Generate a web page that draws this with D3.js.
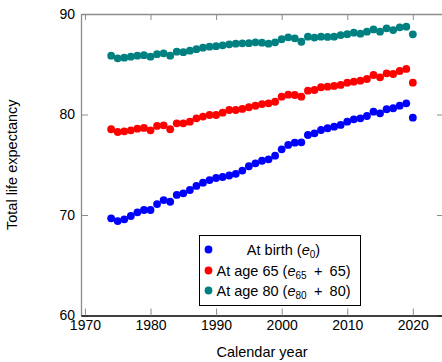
<!DOCTYPE html>
<html>
<head>
<meta charset="utf-8">
<script src="https://cdn.jsdelivr.net/npm/d3@7"></script>
<style>
  body { margin: 0; background: #fff; }
  svg { font-family: "Liberation Sans", Arial, sans-serif; }
</style>
</head>
<body>
<svg width="442" height="362"></svg>
<script>
var years = d3.range(1974, 2021);

var atBirth = [69.67, 69.4, 69.57, 69.9, 70.27, 70.5, 70.5, 71.09, 71.49, 71.32,
  72.0, 72.16, 72.49, 72.89, 73.22, 73.48, 73.68, 73.78, 73.93, 74.1,
  74.42, 74.85, 75.14, 75.4, 75.54, 75.9, 76.53, 76.97, 77.2, 77.23,
  77.96, 78.13, 78.46, 78.63, 78.79, 78.96, 79.29, 79.52, 79.62, 79.85,
  80.28, 80.12, 80.52, 80.62, 80.88, 81.11, 79.68];

var atAge65 = [78.53, 78.26, 78.33, 78.43, 78.59, 78.66, 78.43, 78.86, 78.92, 78.53,
  79.12, 79.12, 79.29, 79.62, 79.79, 79.95, 79.95, 80.18, 80.45, 80.45,
  80.55, 80.72, 80.87, 81.04, 81.11, 81.27, 81.77, 81.97, 81.94, 81.77,
  82.37, 82.44, 82.71, 82.77, 82.84, 82.94, 83.17, 83.27, 83.37, 83.53,
  83.93, 83.7, 84.1, 84.03, 84.33, 84.53, 83.17];

var atAge80 = [85.85, 85.59, 85.65, 85.75, 85.85, 85.9, 85.75, 86.0, 86.09, 85.85,
  86.25, 86.2, 86.35, 86.5, 86.65, 86.75, 86.8, 86.88, 86.98, 87.05,
  87.08, 87.1, 87.18, 87.15, 87.05, 87.18, 87.5, 87.68, 87.58, 87.24,
  87.74, 87.65, 87.74, 87.72, 87.74, 87.9, 87.99, 88.14, 88.04, 88.24,
  88.47, 88.24, 88.57, 88.4, 88.67, 88.74, 87.98];

var xTicks = [1970, 1980, 1990, 2000, 2010, 2020];
var yTicks = [60, 70, 80, 90];

var series = [
  {values: atBirth, color: "#0000ff"},
  {values: atAge65, color: "#ff0000"},
  {values: atAge80, color: "#008080"}
];

var svg = d3.select("svg"),
    mLeft = 81, mRight = 443, mTop = 14, mBottom = 315.5;

var x = d3.scaleLinear().domain([1969.4, 2024.6]).range([mLeft, mRight]);
var y = d3.scaleLinear().domain([60, 90]).range([mBottom, mTop]);

// frame axes, ticks pointing inward
var axisColor = "#8c8c8c";

var gLeft = svg.append("g")
    .attr("transform", "translate(" + mLeft + ",0)")
    .call(d3.axisLeft(y).tickValues(yTicks).tickSizeInner(-7).tickSizeOuter(0).tickPadding(6));

var gRight = svg.append("g")
    .attr("transform", "translate(" + mRight + ",0)")
    .call(d3.axisRight(y).tickValues(yTicks).tickSizeInner(-6).tickSizeOuter(0).tickFormat(""));

var gTop = svg.append("g")
    .attr("transform", "translate(0," + mTop + ")")
    .call(d3.axisTop(x).tickValues(xTicks).tickSizeInner(-6).tickSizeOuter(0).tickFormat(""));

var gBottom = svg.append("g")
    .attr("transform", "translate(0," + mBottom + ")")
    .call(d3.axisBottom(x).tickValues(xTicks).tickSizeInner(-7).tickSizeOuter(0).tickPadding(5).tickFormat(d3.format("d")));

[gLeft, gRight, gTop, gBottom].forEach(function(g) {
  g.selectAll(".tick line").attr("stroke", axisColor);
  g.select(".domain").attr("stroke", axisColor).attr("stroke-width", 1.3);
  g.selectAll("text").attr("fill", "#000").style("font-size", "14px")
    .style("font-family", "Liberation Sans, Arial, sans-serif");
});
gBottom.select(".domain").attr("stroke", "#000");

// points
series.forEach(function(s) {
  svg.append("g")
    .selectAll("circle")
    .data(s.values)
    .enter().append("circle")
      .attr("cx", function(d, i) { return x(years[i]); })
      .attr("cy", function(d) { return y(d); })
      .attr("r", 3.9)
      .attr("fill", s.color);
});

// axis titles
svg.append("text")
    .attr("transform", "translate(17," + ((mTop + mBottom) / 2) + ") rotate(-90)")
    .attr("text-anchor", "middle")
    .style("font-size", "14.5px")
    .text("Total life expectancy");

svg.append("text")
    .attr("x", 262)
    .attr("y", 357)
    .attr("text-anchor", "middle")
    .style("font-size", "14.5px")
    .text("Calendar year");

// legend
var legend = svg.append("g");
legend.append("rect")
    .attr("x", 199.5).attr("y", 235.5)
    .attr("width", 161).attr("height", 70)
    .attr("fill", "#fff").attr("stroke", "#000");

var rowY = [249.5, 270.5, 290.5];
var legendLabels = [
  [["At birth (", ""], ["e", "i"], ["0", "s"], [")", ""]],
  [["At age 65 (", ""], ["e", "i"], ["65", "s"], ["\u2002+\u200265)", ""]],
  [["At age 80 (", ""], ["e", "i"], ["80", "s"], ["\u2002+\u200280)", ""]]
];

series.forEach(function(s, k) {
  legend.append("circle")
      .attr("cx", 208.5).attr("cy", rowY[k]).attr("r", 3.9)
      .attr("fill", s.color);
  var t = legend.append("text")
      .attr("x", k === 0 ? 283.5 : 216.5)
      .attr("y", rowY[k] + 5)
      .attr("text-anchor", k === 0 ? "middle" : "start")
      .style("font-size", "14.5px");
  legendLabels[k].forEach(function(p, j) {
    var ts = t.append("tspan").text(p[0]);
    if (p[1] === "i") ts.style("font-style", "italic");
    if (p[1] === "s") ts.style("font-size", "10px").attr("dy", 3);
    if (j > 0 && legendLabels[k][j - 1][1] === "s") ts.attr("dy", -3);
  });
});
</script>
</body>
</html>
